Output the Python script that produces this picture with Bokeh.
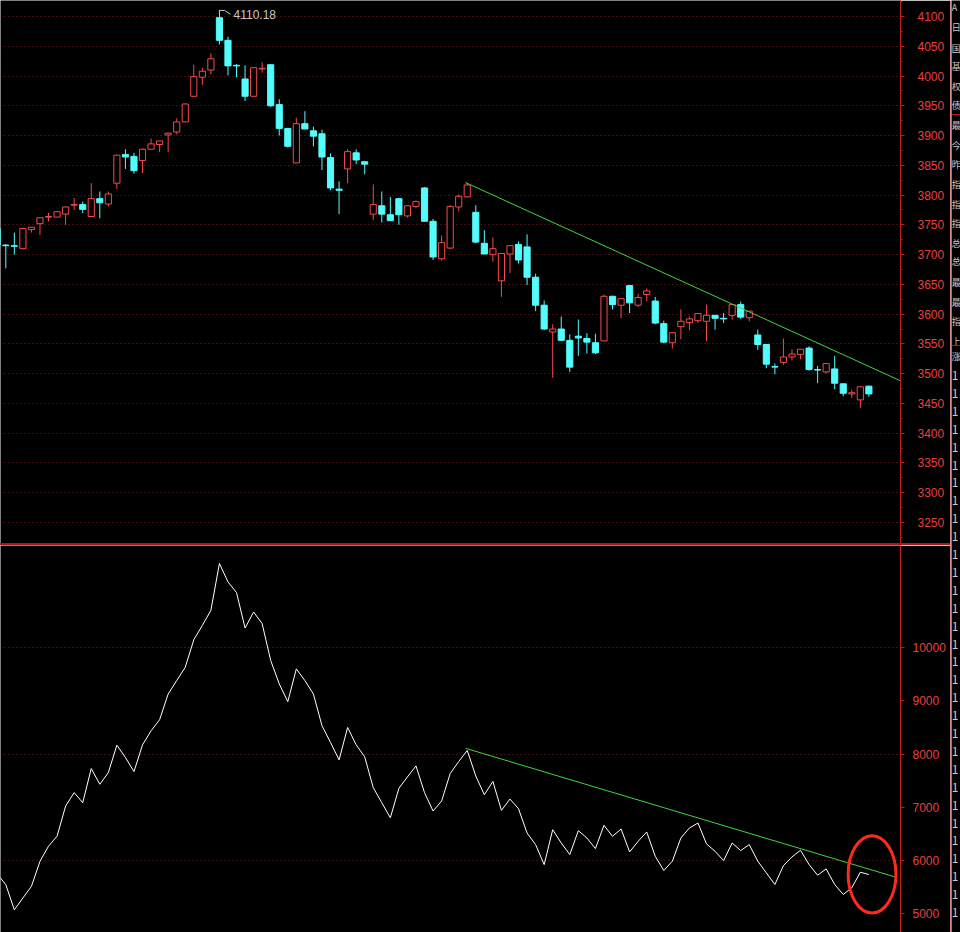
from bokeh.plotting import figure
from bokeh.models import Range1d, FixedTicker, ColumnDataSource, Div
from bokeh.layouts import row, column
from bokeh.core.properties import value
from bokeh.embed import file_html
from bokeh.resources import INLINE

# ---------------- data (one entry per trading day, oldest first) ----------------
opens = [3744, 3716, 3715, 3710, 3742, 3752, 3763, 3763, 3768, 3783, 3784, 3764, 3794, 3785,
         3820, 3868, 3865, 3858, 3877, 3885, 3901, 3906, 3923, 3966, 3998, 4010, 4098, 4060,
         4018, 3995, 3966, 4012, 4019, 3952, 3912, 3854, 3920, 3908, 3903, 3863, 3810, 3844,
         3871, 3856, 3768, 3782, 3767, 3794, 3765, 3781, 3812, 3756, 3693, 3711, 3780, 3797,
         3771, 3719, 3700, 3656, 3701, 3717, 3713, 3662, 3615, 3570, 3575, 3556, 3563, 3559,
         3552, 3555, 3630, 3615, 3648, 3615, 3633, 3622, 3584, 3552, 3579, 3586, 3589, 3588,
         3598, 3593, 3598, 3616, 3594, 3565, 3549, 3512, 3519, 3528, 3532, 3543, 3507, 3503,
         3508, 3483, 3466, 3456, 3479]
highs = [3750, 3718, 3737, 3745, 3746, 3763, 3770, 3773, 3781, 3795, 3789, 3820, 3806, 3806,
         3868, 3877, 3871, 3878, 3895, 3891, 3905, 3929, 3954, 4019, 4014, 4038, 4110.18, 4066,
         4020, 4018, 4014, 4023, 4019, 3961, 3913, 3930, 3941, 3915, 3910, 3870, 3823, 3877,
         3877, 3856, 3818, 3806, 3797, 3795, 3782, 3791, 3813, 3760, 3732, 3783, 3801, 3821,
         3783, 3741, 3729, 3702, 3715, 3722, 3734, 3668, 3623, 3583, 3596, 3566, 3591, 3568,
         3567, 3633, 3631, 3626, 3649, 3634, 3643, 3629, 3589, 3569, 3608, 3596, 3601, 3616,
         3598, 3602, 3617, 3621, 3605, 3574, 3549, 3517, 3559, 3541, 3541, 3546, 3513, 3517,
         3530, 3483, 3473, 3478, 3480]
lows = [3712, 3677, 3700, 3709, 3737, 3733, 3756, 3763, 3750, 3775, 3770, 3764, 3761, 3781,
        3810, 3844, 3836, 3837, 3877, 3872, 3872, 3902, 3923, 3966, 3985, 4003, 4053, 4001,
        3998, 3958, 3966, 4006, 3948, 3900, 3880, 3854, 3911, 3882, 3842, 3808, 3768, 3820,
        3852, 3835, 3758, 3754, 3757, 3750, 3762, 3778, 3756, 3691, 3690, 3709, 3773, 3796,
        3719, 3701, 3688, 3629, 3669, 3685, 3649, 3605, 3573, 3493, 3555, 3503, 3530, 3534,
        3533, 3555, 3608, 3593, 3602, 3612, 3622, 3583, 3551, 3542, 3558, 3573, 3585, 3555,
        3574, 3585, 3591, 3592, 3588, 3540, 3509, 3499, 3515, 3522, 3524, 3505, 3484, 3500,
        3474, 3462, 3459, 3442, 3461]
closes = [3716, 3715, 3714, 3744, 3746, 3762, 3764, 3772, 3780, 3784, 3776, 3794, 3787, 3802,
          3867, 3864, 3841, 3877, 3886, 3891, 3904, 3923, 3953, 3999, 4008, 4029, 4060, 4017,
          4017, 3966, 4014, 4013, 3950, 3912, 3882, 3920, 3911, 3899, 3864, 3812, 3808, 3873,
          3859, 3852, 3784, 3768, 3757, 3767, 3782, 3789, 3756, 3696, 3720, 3781, 3798, 3817,
          3721, 3701, 3710, 3702, 3715, 3691, 3662, 3615, 3575, 3575, 3556, 3511, 3560, 3553,
          3535, 3630, 3616, 3626, 3619, 3628, 3639, 3585, 3553, 3569, 3588, 3592, 3601, 3598,
          3593, 3592, 3616, 3595, 3605, 3549, 3516, 3511, 3528, 3533, 3541, 3507, 3506, 3517,
          3484, 3467, 3468, 3478, 3466]
indicator = [5750, 5547, 5075, 5296, 5516, 5987, 6270, 6459, 7025, 7277, 7088, 7730, 7434, 7654,
             8170, 7937, 7673, 8176, 8440, 8648, 9132, 9384, 9635, 10151, 10421, 10704, 11585,
             11239, 11038, 10371, 10673, 10453, 9761, 9321, 8987, 9604, 9384, 9132, 8535, 8220,
             7893, 8503, 8176, 7950, 7371, 7088, 6805, 7358, 7572, 7780, 7277, 6931, 7119, 7635,
             7862, 8070, 7590, 7238, 7488, 6944, 7156, 6975, 6519, 6300, 5925, 6581, 6331, 6113,
             6563, 6425, 6225, 6663, 6456, 6594, 6163, 6363, 6538, 6081, 5813, 5988, 6425, 6613,
             6706, 6313, 6175, 6000, 6331, 6188, 6300, 5988, 5769, 5550, 5906, 6069, 6194, 5925,
             5725, 5844, 5550, 5363, 5488, 5781, 5738]

price_ticks = [3250, 3300, 3350, 3400, 3450, 3500, 3550, 3600, 3650, 3700, 3750, 3800,
               3850, 3900, 3950, 4000, 4050, 4100]
price_minor = [3225, 3275, 3325, 3375, 3425, 3475, 3525, 3575, 3625, 3675, 3725, 3775,
               3825, 3875, 3925, 3975, 4025, 4075, 4125]
ind_ticks = [5000, 6000, 7000, 8000, 9000, 10000]
ind_grid = [6000, 8000, 10000]

# trend lines drawn on the chart (day index, value)
trend_price_x = [54.8, 105.7]
trend_price_y = [3821, 3488]
trend_ind_x = [54.8, 105.1]
trend_ind_y = [8111, 5690]
# red circle marking the last days of the indicator
mark_x, mark_y, mark_w, mark_h = [102.37], [5741], [5.6], [1450]

info_top = ["A", "日", "国", "基", "权", "债"]
info_top_y = [7, 27, 48, 66, 86, 105]
info_mid = ["最", "今", "昨", "指", "指", "指", "总", "总", "最", "最", "指", "上"]
info_mid_y = [125, 145, 164, 184, 204, 223, 243, 261, 282, 302, 321, 341]
info_rise = ["涨"]
info_rise_y = [356]
info_ones_y = [375 + 17.9 * k for k in range(31)]
info_sep_y = [114, 345]

# ---------------- styles ----------------
UP = "#f44a4a"
DN = "#54fcfc"
AX = "#c21c1c"
LBL = "#e8403c"
GRID = "#8a1c1c"
SEP = "#a81818"
TREND = "#3fd43f"
ELL = "#ff2a1e"
TXT = "#c8c8c8"

W_MAIN, W_VSEP, W_INFO = 950, 1, 9
H_TOP, H_SEP, H_BOT = 543, 2, 387
X_RANGE = (0.38, 105.70)

idx = list(range(len(opens)))
up = [c >= o for o, c in zip(opens, closes)]
wick_col = [UP if u else DN for u in up]

src_up = ColumnDataSource(dict(
    x=[i for i in idx if up[i]],
    top=[closes[i] for i in idx if up[i]],
    bottom=[opens[i] for i in idx if up[i]]))
src_dn = ColumnDataSource(dict(
    x=[i for i in idx if not up[i]],
    top=[opens[i] for i in idx if not up[i]],
    bottom=[closes[i] for i in idx if not up[i]]))


def style_axis(p, ticks, minor, standoff):
    ax = p.yaxis[0]
    ax.ticker = FixedTicker(ticks=ticks, minor_ticks=minor)
    ax.axis_line_color = AX
    ax.axis_line_width = 1
    ax.major_tick_line_color = AX
    ax.major_tick_out = 4
    ax.major_tick_in = 0
    ax.minor_tick_line_color = AX
    ax.minor_tick_out = 2
    ax.minor_tick_in = 0
    ax.major_label_text_color = LBL
    ax.major_label_text_font = "Liberation Sans"
    ax.major_label_text_font_size = "12px"
    ax.major_label_standoff = standoff
    p.xgrid.visible = False
    p.ygrid.grid_line_color = GRID
    p.ygrid.grid_line_dash = "1 3"
    p.ygrid.grid_line_width = 1


def base_fig(h, yr):
    return figure(width=W_MAIN, height=h, output_backend="svg", toolbar_location=None,
                  x_range=Range1d(*X_RANGE), y_range=Range1d(*yr),
                  y_axis_location="right", x_axis_location=None,
                  background_fill_color="black", border_fill_color="black",
                  outline_line_color=None, min_border_left=0, min_border_top=0,
                  min_border_bottom=0, min_border_right=50)


def solid_fig(w, h, color):
    f = figure(width=w, height=h, output_backend="svg", toolbar_location=None,
               x_axis_location=None, y_axis_location=None,
               background_fill_color=color, border_fill_color=color,
               outline_line_color=None, min_border=0)
    f.xgrid.visible = False
    f.ygrid.visible = False
    return f


# ---------------- price panel ----------------
top = base_fig(H_TOP, (3214.7, 4126.9))
style_axis(top, price_ticks, price_minor, 13)
top.ygrid.ticker = FixedTicker(ticks=price_ticks)

top.segment(x0=idx, y0=lows, x1=idx, y1=highs, line_color=wick_col, line_width=1)
top.vbar(x="x", width=0.72, top="top", bottom="bottom", source=src_up,
         fill_color="black", line_color=UP, line_width=1)
top.vbar(x="x", width=0.72, top="top", bottom="bottom", source=src_dn,
         fill_color=DN, line_color=DN, line_width=1)

top.line(trend_price_x, trend_price_y, line_color=TREND, line_width=1)

# highest price flag
hmax = max(highs)
jmax = highs.index(hmax)
top.line([jmax, jmax, jmax + 0.6, jmax + 1.3], [hmax - 2, hmax, hmax, hmax - 6.5],
         line_color=TXT, line_width=1)
top.text(x=[jmax + 1.65], y=[hmax - 6.8], text=[f"{hmax:.2f}"],
         text_font=value("Liberation Sans"), text_font_size="12px",
         text_color=TXT, text_align="left", text_baseline="middle")

# ---------------- indicator panel ----------------
bot = base_fig(H_BOT, (4648, 11923))
style_axis(bot, ind_ticks, [], 8)
bot.ygrid.ticker = FixedTicker(ticks=ind_grid)

bot.line(idx, indicator, line_color="white", line_width=1)
bot.line(trend_ind_x, trend_ind_y, line_color=TREND, line_width=1)
bot.ellipse(x=mark_x, y=mark_y, width=mark_w, height=mark_h,
            fill_color=None, line_color=ELL, line_width=3)

# separators
hsep = Div(text="", width=W_MAIN, height=H_SEP,
           styles={"background-color": SEP, "margin": "0", "padding": "0"})
vsep = solid_fig(W_VSEP, H_TOP + H_SEP + H_BOT, SEP)

# ---------------- narrow info column at the right ----------------
info = figure(width=W_INFO, height=H_TOP + H_SEP + H_BOT, output_backend="svg",
              toolbar_location=None, x_range=Range1d(951, 960), y_range=Range1d(932, 0),
              x_axis_location=None, y_axis_location=None,
              background_fill_color="black", border_fill_color="black",
              outline_line_color=None, min_border=0)
info.xgrid.visible = False
info.ygrid.visible = False
cjk = value("Noto Sans CJK SC")
for labels, ys, size in ((info_top, info_top_y, "9px"), (info_mid, info_mid_y, "9px"),
                         (info_rise, info_rise_y, "9px"), (["1"] * len(info_ones_y), info_ones_y, "12px")):
    info.text(x=[951.2] * len(labels), y=ys, text=labels, text_font=cjk,
              text_font_size=size, text_color=TXT, text_align="left", text_baseline="middle")
info.segment(x0=[951] * 2, y0=info_sep_y, x1=[960] * 2, y1=info_sep_y,
             line_color=SEP, line_width=1)

main = column(top, hsep, bot, spacing=0)
p = row(main, vsep, info, spacing=0)

open("out.html", "w").write(file_html(p, INLINE))
